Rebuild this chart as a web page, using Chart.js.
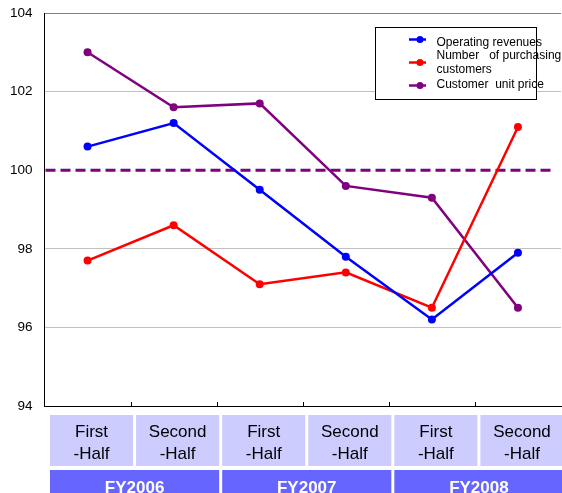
<!DOCTYPE html>
<html>
<head>
<meta charset="utf-8">
<script src="https://cdn.jsdelivr.net/npm/chart.js@4/dist/chart.umd.min.js"></script>
<style>
html,body{margin:0;padding:0;background:#fff;}
#wrap{width:562px;height:493px;position:relative;}
</style>
</head>
<body>
<div id="wrap"><canvas id="c" width="562" height="493"></canvas></div>
<script>
// ---- data ----
const categories = ['FY2006 First-Half','FY2006 Second-Half','FY2007 First-Half','FY2007 Second-Half','FY2008 First-Half','FY2008 Second-Half'];
const halfLabels = [['First','-Half'],['Second','-Half'],['First','-Half'],['Second','-Half'],['First','-Half'],['Second','-Half']];
const fiscalYears = ['FY2006','FY2007','FY2008'];
const operatingRevenues = [100.6, 101.2, 99.5, 97.8, 96.2, 97.9];
const purchasingCustomers = [97.7, 98.6, 97.1, 97.4, 96.5, 101.1];
const customerUnitPrice = [103.0, 101.6, 101.7, 99.6, 99.3, 96.5];
const seriesNames = ['Operating revenues', 'Number   of purchasing customers', 'Customer  unit price'];
const legendLines = [['Operating revenues'], ['Number   of purchasing', 'customers'], ['Customer  unit price']];
const referenceValue = 100;
const yTicks = [94, 96, 98, 100, 102, 104];

const FONT = "'Liberation Sans', Arial, sans-serif";

const decor = {
  id: 'decor',
  beforeDatasetsDraw(chart) {
    const {ctx, chartArea, scales} = chart;
    const y = scales.y.getPixelForValue(referenceValue);
    ctx.save();
    ctx.strokeStyle = '#800080';
    ctx.lineWidth = 3;
    ctx.setLineDash([10, 5]);
    ctx.beginPath();
    ctx.moveTo(chartArea.left + 1, y);
    ctx.lineTo(chartArea.right - 6, y);
    ctx.stroke();
    ctx.restore();
  },
  afterDraw(chart) {
    const {ctx, chartArea, scales} = chart;
    const xs = scales.x;
    const step = xs.getPixelForValue(1) - xs.getPixelForValue(0);
    const b = i => xs.getPixelForValue(i) - step / 2;
    ctx.save();
    // inward tick marks
    ctx.strokeStyle = '#000';
    ctx.lineWidth = 1;
    for (let i = 1; i < categories.length; i++) {
      const px = Math.round(b(i)) + 0.5;
      ctx.beginPath();
      ctx.moveTo(px, chartArea.bottom);
      ctx.lineTo(px, chartArea.bottom - 4);
      ctx.stroke();
    }
    // half-year cells
    for (let i = 0; i < categories.length; i++) {
      const x0 = b(i) + 5.5, x1 = b(i + 1) + 2.5;
      ctx.fillStyle = '#ccccff';
      ctx.fillRect(x0, 415, x1 - x0, 51);
      ctx.fillStyle = '#000';
      ctx.font = '17px ' + FONT;
      ctx.textAlign = 'center';
      ctx.textBaseline = 'alphabetic';
      const cx = (x0 + x1) / 2;
      ctx.fillText(halfLabels[i][0], cx, 437);
      ctx.fillText(halfLabels[i][1], cx, 459);
    }
    // fiscal year cells
    for (let k = 0; k < fiscalYears.length; k++) {
      const x0 = b(2 * k) + 5.5, x1 = b(2 * k + 2) + 2.5;
      ctx.fillStyle = '#6666ff';
      ctx.fillRect(x0, 470, x1 - x0, 30);
      ctx.fillStyle = '#fff';
      ctx.font = 'bold 17px ' + FONT;
      ctx.textAlign = 'center';
      ctx.fillText(fiscalYears[k], (x0 + x1) / 2, 493);
    }
    // legend
    const lx = 375.5, ly = 27.5, lw = 161, lh = 72;
    ctx.fillStyle = '#fff';
    ctx.fillRect(lx, ly, lw, lh);
    ctx.strokeStyle = '#000';
    ctx.lineWidth = 1;
    ctx.strokeRect(lx, ly, lw, lh);
    const rows = [[39.5, [43]], [62.5, [56, 70]], [85.5, [85]]];
    chart.data.datasets.forEach((ds, i) => {
      const my = rows[i][0];
      ctx.strokeStyle = ds.borderColor;
      ctx.lineWidth = 2.5;
      ctx.beginPath();
      ctx.moveTo(409, my);
      ctx.lineTo(426, my);
      ctx.stroke();
      ctx.fillStyle = ds.borderColor;
      ctx.beginPath();
      ctx.arc(420, my, 3.5, 0, Math.PI * 2);
      ctx.fill();
      ctx.fillStyle = '#000';
      ctx.font = '12px ' + FONT;
      ctx.textAlign = 'left';
      ctx.textBaseline = 'middle';
      legendLines[i].forEach((t, j) => ctx.fillText(t, 436.5, rows[i][1][j]));
    });
    ctx.restore();
  }
};

const mk = (label, data, color) => ({
  label, data,
  borderColor: color, backgroundColor: color,
  borderWidth: 2.5, pointRadius: 4, pointHoverRadius: 4,
  pointBorderWidth: 0, tension: 0, fill: false
});

new Chart(document.getElementById('c'), {
  type: 'line',
  data: {
    labels: categories,
    datasets: [
      mk(seriesNames[0], operatingRevenues, '#0000ff'),
      mk(seriesNames[1], purchasingCustomers, '#ff0000'),
      mk(seriesNames[2], customerUnitPrice, '#800080')
    ]
  },
  options: {
    responsive: false,
    animation: false,
    devicePixelRatio: 1,
    layout: {autoPadding: false, padding: {left: 0, top: 13, right: 1, bottom: 87}},
    plugins: {legend: {display: false}, tooltip: {enabled: false}, title: {display: false}},
    scales: {
      x: {
        type: 'category',
        offset: true,
        grid: {display: false},
        border: {display: true, color: '#000', width: 1},
        ticks: {display: false},
        afterFit: s => { s.height = 0; s.paddingLeft = 0; s.paddingRight = 0; }
      },
      y: {
        min: 94, max: 104,
        afterBuildTicks: s => { s.ticks = yTicks.map(v => ({value: v})); },
        afterFit: s => { s.width = 44.5; s.paddingTop = 0; s.paddingBottom = 0; },
        grid: {
          drawTicks: false,
          color: c => {
            const v = c.tick && c.tick.value;
            if (v === 104) return '#808080';
            if (v === 100 || v === 94) return 'rgba(0,0,0,0)';
            return '#c0c0c0';
          },
          lineWidth: 1
        },
        border: {display: true, color: '#000', width: 1},
        ticks: {
          color: '#000',
          font: {family: FONT, size: 13.5},
          padding: 12
        }
      }
    }
  },
  plugins: [decor]
});
</script>
</body>
</html>
